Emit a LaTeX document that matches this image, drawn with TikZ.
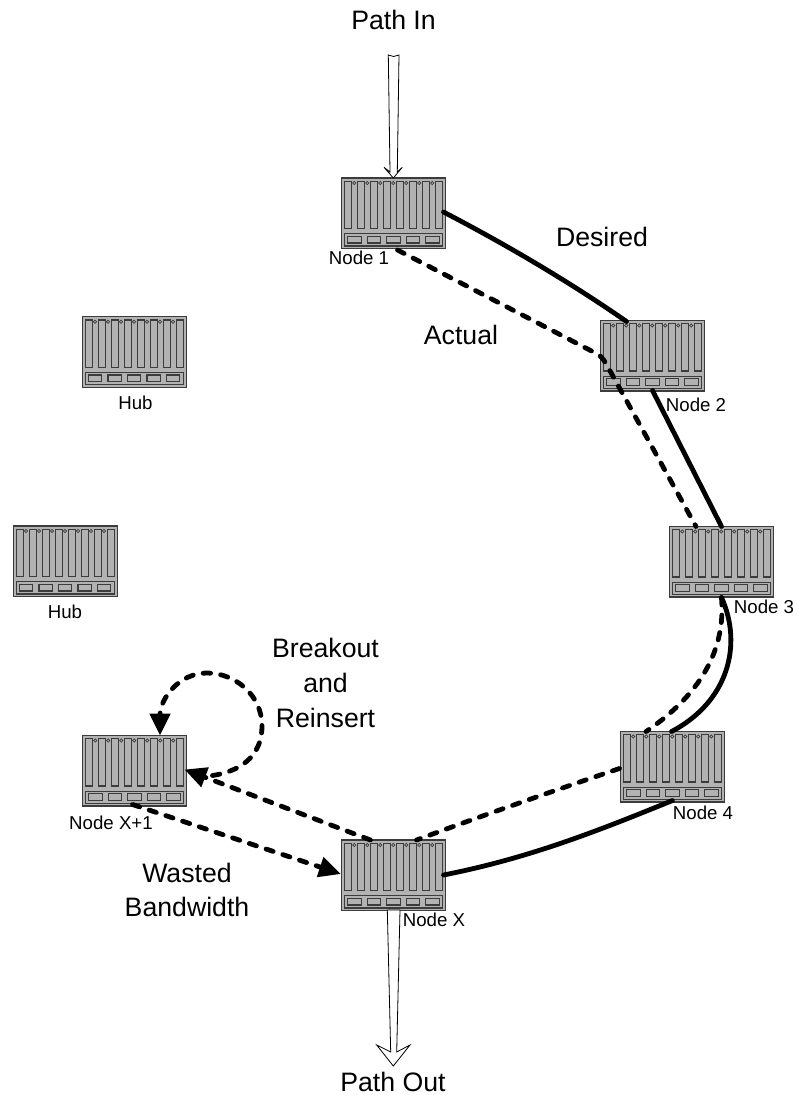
\documentclass[tikz,border=0pt]{standalone}
\usepackage{fontspec}
\setmainfont{Liberation Sans}
\usetikzlibrary{calc,arrows.meta}
\definecolor{rackgray}{HTML}{B2B2B2}
\definecolor{rackline}{HTML}{3C3C3C}
\tikzset{
  rackbody/.style={draw=rackline,fill=rackgray,line width=0.9pt,minimum width=78pt,minimum height=52.8pt,inner sep=0pt,outer sep=0pt,anchor=north west},
  rackpart/.style={draw=rackline,fill=rackgray,line width=0.8pt},
  rackpin/.style={draw=rackline,fill=rackgray,line width=0.55pt},
  solidlink/.style={line width=3.6pt,line cap=round,black},
  dashlink/.style={line width=3.6pt,line cap=round,black,dash pattern=on 5.6pt off 7.6pt},
  headlink/.style={dashlink,-{Triangle[length=16.5pt,width=15pt]}},
  pathflow/.style={draw=black,fill=white,line width=0.6pt,line join=miter},
  biglabel/.style={font=\fontsize{20}{26}\selectfont,align=center,inner sep=0pt},
  smalllabel/.style={font=\fontsize{14}{16}\selectfont,inner sep=0pt}
}
\newcommand{\rackbox}[3]{%
  \node[rackbody] (#1) at (#2,#3) {};
  \begin{scope}[shift={(#1.north west)}]
    \foreach \i in {0,...,7} {\draw[rackpart] ({3.3+13*\i},3.3) rectangle ({9.8+13*\i},50.5);}
    \foreach \i in {1,...,7} {\draw[rackpin] ({-0.3+13*\i},5) circle (1.2pt);}
    \draw[rackpart] (3.3,55.7) rectangle (101,68);
    \foreach \i in {0,...,4} {\draw[rackpart] ({6.2+19.5*\i},58.3) rectangle ({19.6+19.5*\i},65);}
  \end{scope}}
\begin{document}
\begin{tikzpicture}[x=0.75pt,y=-0.75pt]
\useasboundingbox (0,0) rectangle (799,1095);
\rackbox{nodeA}{341.5}{178}
\rackbox{nodeB}{600.5}{320.5}
\rackbox{nodeC}{669.5}{526.5}
\rackbox{nodeD}{620.5}{731.5}
\rackbox{nodeX}{341.5}{840}
\rackbox{nodeY}{82.5}{735.5}
\rackbox{hubA}{82.3}{316.7}
\rackbox{hubB}{13.3}{526}
% ports
\coordinate (aR) at ($(nodeA.north west)+(102,34)$);
\coordinate (aB) at ($(nodeA.north west)+(56,72)$);
\coordinate (bT) at ($(nodeB.north west)+(26,1)$);
\coordinate (bL) at ($(nodeB.north west)+(-8,31)$);
\coordinate (bM) at ($(nodeB.north west)+(6,44)$);
\coordinate (bB) at ($(nodeB.north west)+(52,70)$);
\coordinate (cT) at ($(nodeC.north west)+(52,0)$);
\coordinate (cD) at ($(nodeC.north west)+(26.5,0)$);
\coordinate (cB) at ($(nodeC.north west)+(52,71)$);
\coordinate (dT) at ($(nodeD.north west)+(51,0)$);
\coordinate (dD) at ($(nodeD.north west)+(25.5,0)$);
\coordinate (dB) at ($(nodeD.north west)+(52,69)$);
\coordinate (dL) at ($(nodeD.north west)+(-1,37)$);
\coordinate (xR) at ($(nodeX.north west)+(102,35)$);
\coordinate (xT) at ($(nodeX.north west)+(75,0)$);
\coordinate (xU) at ($(nodeX.north west)+(29,0)$);
\coordinate (xL) at ($(nodeX.north west)+(-0.5,34)$);
\coordinate (yR) at ($(nodeY.north west)+(102,34)$);
\coordinate (yB) at ($(nodeY.north west)+(50,69)$);
\coordinate (yT) at ($(nodeY.north west)+(77.5,0)$);
\coordinate (yS) at ($(nodeY.north west)+(130,40)$);
% solid links
\draw[solidlink] (aR) .. controls ($(aR)!0.35!(bT)+(2,-4)$) and ($(aR)!0.7!(bT)+(2,-4)$) .. (bT);
\draw[solidlink] (bB) -- (cT);
\draw[solidlink] (cB) .. controls (743,645) and (728,702) .. (dT);
\draw[solidlink] (dB) .. controls (600,830) and (530,858) .. (xR);
% dashed links
\draw[dashlink] (aB) -- (bL) .. controls (599,354) and (603,358) .. (bM) -- (cD);
\draw[dashlink] (cB) .. controls (726,650) and (700,695) .. (dD);
\draw[dashlink] (dL) .. controls (550,792) and (470,820) .. (xT);
\draw[headlink] (xU) -- (yR);
\draw[headlink] (yB) -- (xL);
\draw[headlink] (yS) .. controls (248,770) and (262,750) .. (262,726)
   .. controls (262,695) and (235,673) .. (207,673)
   .. controls (178,673) and (160,700) .. (yT);
% flow arrows
\path[pathflow] (388.3,55) -- (393.6,56.5) -- (399,55) -- (397.3,172) -- (402.3,167.3) -- (393.3,178) -- (384,167.3) -- (390,172) -- cycle;
\path[pathflow] (387.3,910) -- (400,910) -- (396.7,1052) -- (410,1045) -- (393.3,1066) -- (376.7,1045) -- (390.7,1052) -- cycle;
% big labels
\node[biglabel] (lIn) at (393.5,20) {Path In};
\node[biglabel] (lOut) at (393,1082) {Path Out};
\node[biglabel] (lDes) at (602,237) {Desired};
\node[biglabel] (lAct) at (461,335) {Actual};
\node[biglabel] (lBrk) at (325.5,683) {Breakout\\and\\Reinsert};
\node[biglabel] (lWst) at (187,890) {Wasted\\Bandwidth};
% small labels
\node[smalllabel] (lA) at (359,258) {Node 1};
\node[smalllabel] (lB) at (696,405) {Node 2};
\node[smalllabel] (lC) at (764,607) {Node 3};
\node[smalllabel] (lD) at (703,813) {Node 4};
\node[smalllabel] (lX) at (434,920) {Node X};
\node[smalllabel] (lY) at (111,823) {Node X+1};
\node[smalllabel] (lH1) at (135.5,402.5) {Hub};
\node[smalllabel] (lH2) at (65,611.7) {Hub};
\end{tikzpicture}
\end{document}
